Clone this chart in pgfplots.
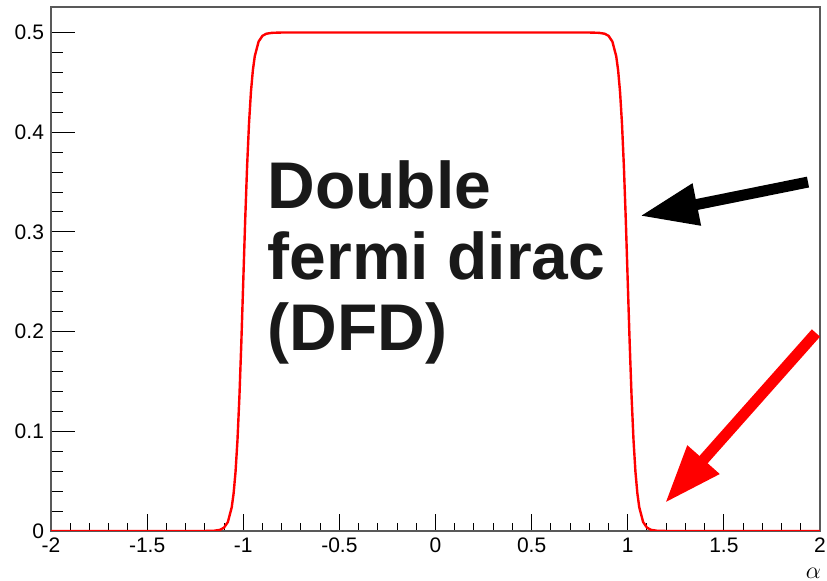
\documentclass[border=0pt]{standalone}
\usepackage{pgfplots}
\pgfplotsset{compat=1.18}
\usepackage{fontspec}
\setmainfont{Liberation Sans}
\usetikzlibrary{arrows.meta}
\begin{document}
\begin{tikzpicture}
\begin{axis}[
scale only axis,
width=384.5pt,
height=262pt,
at={(0,0)},
anchor=south west,
xmin=-2, xmax=2,
ymin=0, ymax=0.5256,
xtick={-2,-1.5,...,2},
ytick={0,0.1,...,0.5},
minor x tick num=4,
minor y tick num=4,
tick pos=left,
tick align=inside,
axis line style={black!65, line width=0.6pt},
tick style={black, line width=0.5pt},
major tick length=8.5pt,
minor tick length=4pt,
ytick style={/pgfplots/major tick length=12pt, /pgfplots/minor tick length=6pt},
tick label style={font=\fontsize{10.5}{12}\selectfont},
/pgf/number format/assume math mode=true,
yticklabel style={/pgf/number format/fixed, /pgf/number format/precision=1},
xticklabel style={/pgf/number format/fixed},
xlabel={$\alpha$},
xlabel style={at={(1,0)}, anchor=north east, yshift=-15pt, xshift=4pt, font=\fontsize{12}{13}\selectfont},
]
\addplot[red, line width=1.2pt] coordinates {
(-2.00,0.0000) (-1.50,0.0000) (-1.20,0.00002) (-1.15,0.0003) (-1.12,0.0012)
(-1.10,0.0034) (-1.08,0.0090) (-1.06,0.0237) (-1.05,0.0379) (-1.04,0.0596)
(-1.03,0.0912) (-1.02,0.1345) (-1.01,0.1888) (-1.00,0.2500) (-0.99,0.3112)
(-0.98,0.3655) (-0.97,0.4088) (-0.96,0.4404) (-0.95,0.4621) (-0.94,0.4763)
(-0.92,0.4910) (-0.90,0.4967) (-0.88,0.4988) (-0.85,0.4997) (-0.80,0.5000)
(0.00,0.5000)
(0.80,0.5000) (0.85,0.4997) (0.88,0.4988) (0.90,0.4967) (0.92,0.4910)
(0.94,0.4763) (0.95,0.4621) (0.96,0.4404) (0.97,0.4088) (0.98,0.3655)
(0.99,0.3112) (1.00,0.2500) (1.01,0.1888) (1.02,0.1345) (1.03,0.0912)
(1.04,0.0596) (1.05,0.0379) (1.06,0.0237) (1.08,0.0090) (1.10,0.0034)
(1.12,0.0012) (1.15,0.0003) (1.20,0.00002) (1.50,0.0000) (2.00,0.0000)
};
\node[anchor=north west, inner sep=0pt, align=left, text=black!90,
      font=\fontsize{33}{35.5}\selectfont\bfseries]
  at (axis cs:-0.875,0.372) {Double\\fermi dirac\\(DFD)};
\draw[black, line width=5.5pt, -{Triangle[length=29pt,width=20pt]}]
  (axis cs:1.9376,0.350) -- (axis cs:1.0637,0.316);
\draw[red, line width=5.5pt, -{Triangle[length=29pt,width=20pt]}]
  (axis cs:1.979,0.1986) -- (axis cs:1.194,0.0281);
\end{axis}
\pgfresetboundingbox
\path (-25.5pt,-24.5pt) rectangle (388pt,265.5pt);
\end{tikzpicture}
\end{document}
